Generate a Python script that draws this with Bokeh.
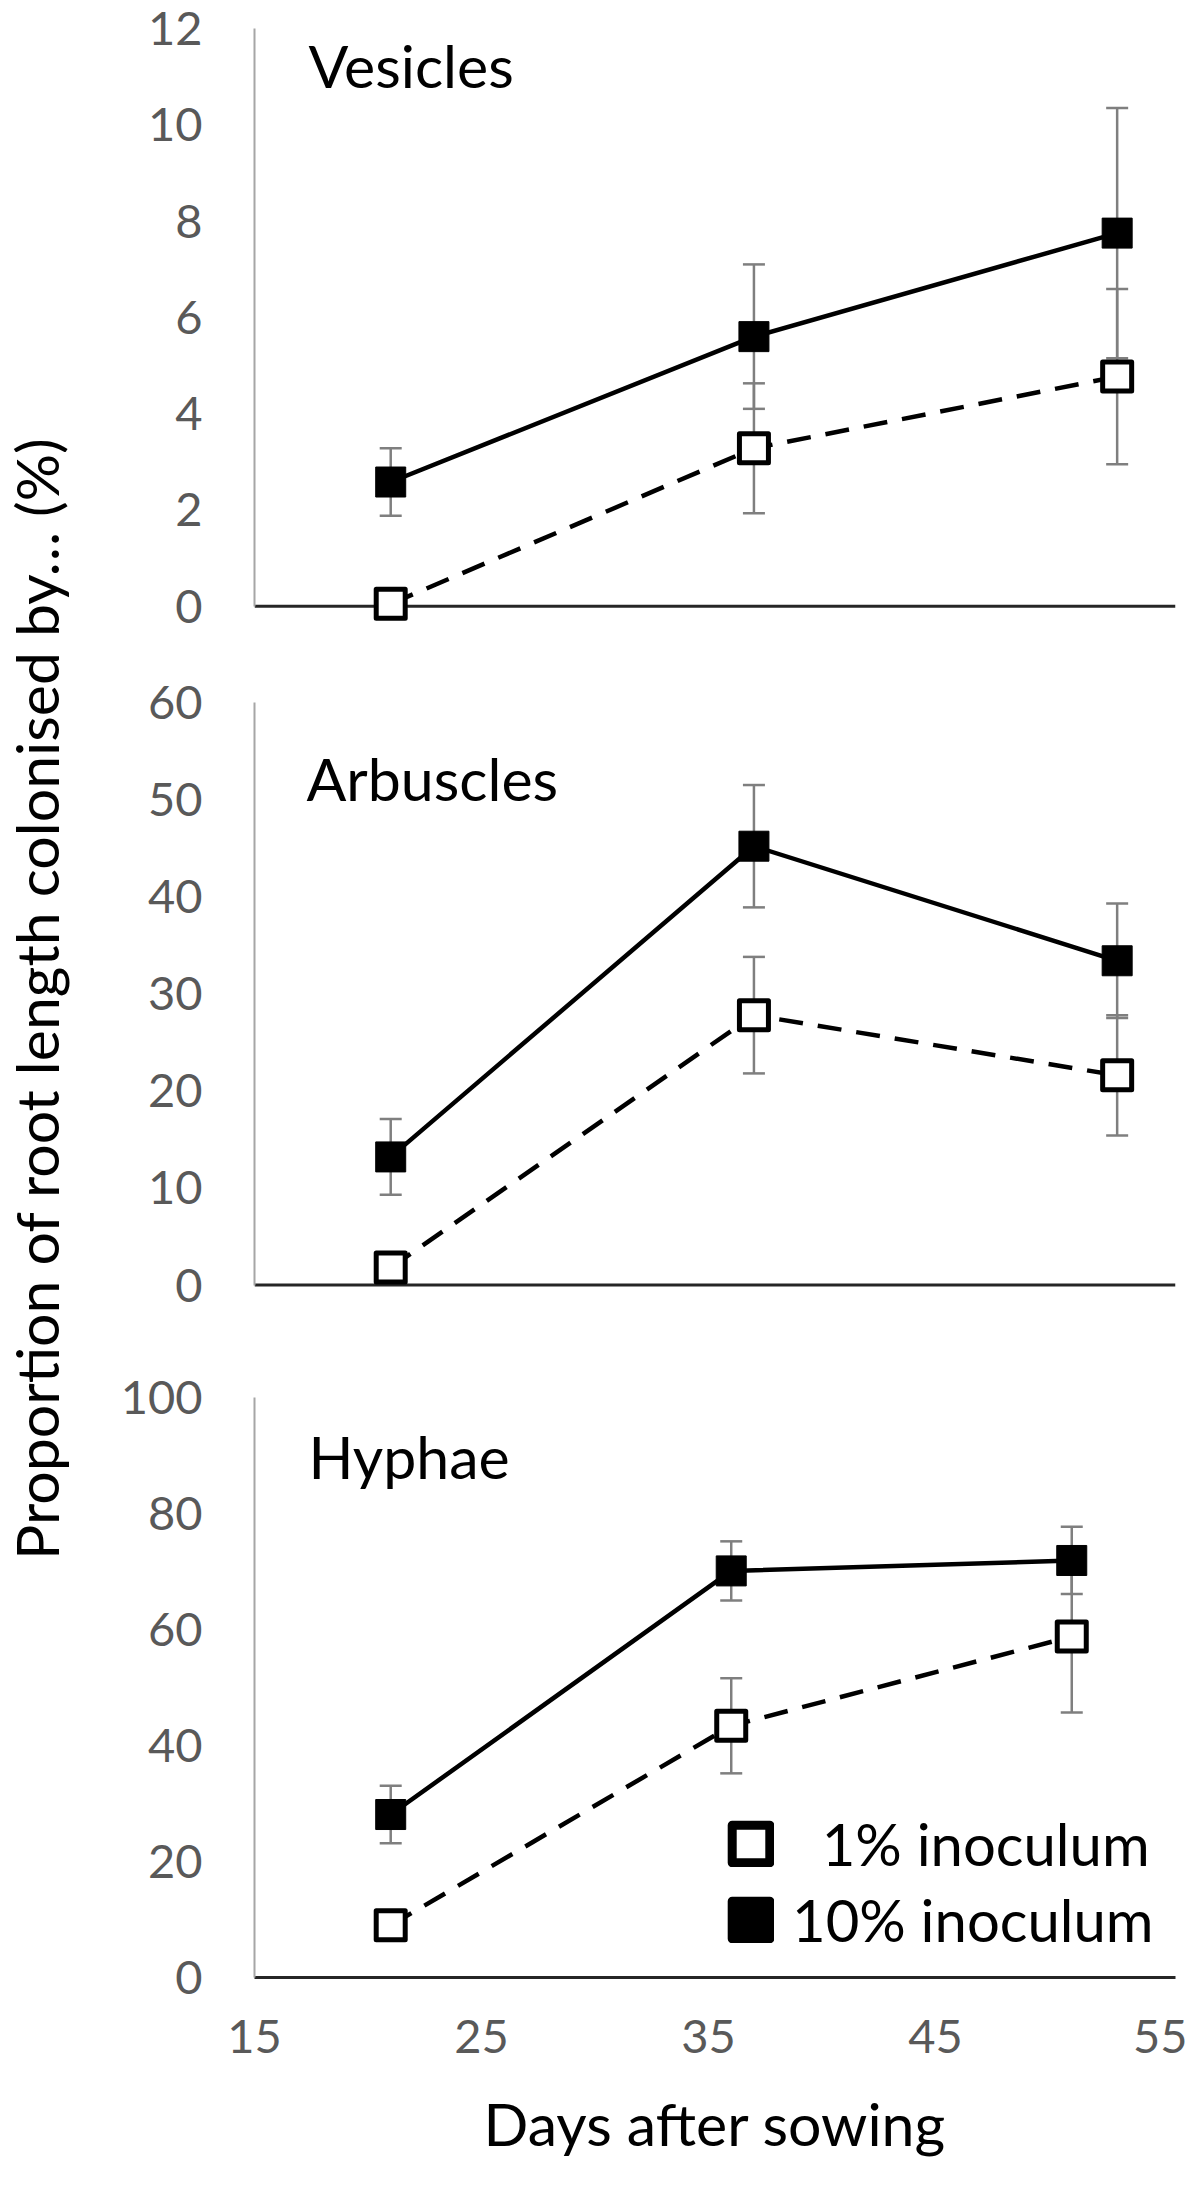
import math
from bokeh.plotting import figure
from bokeh.models import (Range1d, Span, Whisker, TeeHead, ColumnDataSource,
                          Legend, LegendItem, Label, FixedTicker)
from bokeh.layouts import row, column
from bokeh.embed import file_html
from bokeh.resources import INLINE

# ---------------- data ----------------
days_ves = [21, 37, 53]
days_arb = [21, 37, 53]
days_hyp = [21, 36, 51]

ves_10 = [2.58, 5.6, 7.75]
ves_10_err = [0.7, 1.5, 2.6]
ves_1 = [0.05, 3.28, 4.77]
ves_1_err = [0.0, 1.35, 1.82]

arb_10 = [13.2, 45.2, 33.4]
arb_10_err = [3.9, 6.3, 5.9]
arb_1 = [1.8, 27.8, 21.6]
arb_1_err = [0.0, 6.0, 6.2]

hyp_10 = [28.1, 70.1, 71.9]
hyp_10_err = [4.95, 5.1, 5.8]
hyp_1 = [9.0, 43.4, 58.8]
hyp_1_err = [0.0, 8.2, 13.1]

x_ticks = [15, 25, 35, 45, 55]
ves_ticks = [0, 2, 4, 6, 8, 10, 12]
arb_ticks = [0, 10, 20, 30, 40, 50, 60]
hyp_ticks = [0, 20, 40, 60, 80, 100]

panel_names = ["Vesicles", "Arbuscles", "Hyphae"]
legend_labels = ["\u00a0\u00a01% inoculum", "10% inoculum"]
y_title = "Proportion of root length colonised by\u2026 (%)"
x_title = "Days after sowing"

# ---------------- styling ----------------
FONT = "Lato"
TICK_COLOR = "#595959"
AXIS_GRAY = "#A6A6A6"
ERR_GRAY = "#7F7F7F"
ZERO_LINE = "#262626"
X_RANGE = (15, 55.57)
FRAME_W = 921
TITLE_W = 72
LEFT = 262 - 8 - TITLE_W
RIGHT = 12


def make_panel(name, days, v10, e10, v1, e1, ticks, y_lo, frame_h, top, bottom,
               title_pos, bottom_axis):
    p = figure(frame_width=FRAME_W, frame_height=frame_h,
               x_range=Range1d(*X_RANGE), y_range=Range1d(y_lo, ticks[-1]),
               output_backend="svg", toolbar_location=None, title=None,
               x_axis_location="below" if bottom_axis else None,
               min_border_left=LEFT, min_border_right=RIGHT,
               min_border_top=top, min_border_bottom=bottom)
    p.outline_line_color = None
    p.xgrid.visible = False
    p.ygrid.visible = False
    p.background_fill_color = "white"
    p.border_fill_color = "white"

    ya = p.yaxis[0]
    ya.ticker = FixedTicker(ticks=ticks)
    ya.bounds = (0, ticks[-1])
    ya.axis_line_color = AXIS_GRAY
    ya.axis_line_width = 2
    ya.major_tick_line_color = None
    ya.minor_tick_line_color = None
    ya.major_tick_out = 0
    ya.major_tick_in = 0
    ya.major_label_standoff = 52
    ya.major_label_text_font = FONT
    ya.major_label_text_font_size = "47px"
    ya.major_label_text_color = TICK_COLOR

    if bottom_axis:
        xa = p.xaxis[0]
        xa.ticker = FixedTicker(ticks=x_ticks)
        xa.axis_line_color = ZERO_LINE
        xa.axis_line_width = 3
        xa.major_tick_line_color = None
        xa.minor_tick_line_color = None
        xa.major_tick_out = 0
        xa.major_tick_in = 0
        xa.major_label_standoff = 42
        xa.major_label_text_font = FONT
        xa.major_label_text_font_size = "47px"
        xa.major_label_text_color = TICK_COLOR
        xa.axis_label = x_title
        xa.axis_label_text_font = FONT
        xa.axis_label_text_font_size = "59px"
        xa.axis_label_text_font_style = "normal"
        xa.axis_label_text_color = "black"
        xa.axis_label_standoff = 32
    else:
        p.add_layout(Span(location=0, dimension="width", line_color=ZERO_LINE,
                          line_width=3, level="underlay"))

    # error bars
    for vals, errs in ((v10, e10), (v1, e1)):
        xs = [d for d, e in zip(days, errs) if e > 0]
        up = [v + e for v, e in zip(vals, errs) if e > 0]
        lo = [v - e for v, e in zip(vals, errs) if e > 0]
        src = ColumnDataSource(dict(x=xs, upper=up, lower=lo))
        p.add_layout(Whisker(source=src, base="x", upper="upper", lower="lower",
                             line_color=ERR_GRAY, line_width=2.5, level="underlay",
                             upper_head=TeeHead(size=22, line_color=ERR_GRAY, line_width=2.5),
                             lower_head=TeeHead(size=22, line_color=ERR_GRAY, line_width=2.5)))

    # lines
    p.line(days, v1, line_color="black", line_width=4.5, line_dash="24 15")
    p.line(days, v10, line_color="black", line_width=4.5)
    # markers
    p.scatter(days, v1, marker="square", size=29, fill_color="white",
              line_color="black", line_width=5, line_join="round")
    p.scatter(days, v10, marker="square", size=30, fill_color="black",
              line_color="black", line_width=1, line_join="round")

    p.add_layout(Label(x=title_pos[0], y=title_pos[1], text=name, x_units="data",
                       y_units="data", text_font=FONT, text_font_size="59px",
                       text_color="black", text_align="left",
                       text_baseline="alphabetic"))
    return p


def px_to_x(px):
    return X_RANGE[0] + (px - 262) * (X_RANGE[1] - X_RANGE[0]) / FRAME_W


p1 = make_panel(panel_names[0], days_ves, ves_10, ves_10_err, ves_1, ves_1_err,
                ves_ticks, -0.4, 597, 28, 26, (px_to_x(316), 11.23), False)
p2 = make_panel(panel_names[1], days_arb, arb_10, arb_10_err, arb_1, arb_1_err,
                arb_ticks, -2, 602, 51, 48, (px_to_x(314), 52.2), False)
p3 = make_panel(panel_names[2], days_hyp, hyp_10, hyp_10_err, hyp_1, hyp_1_err,
                hyp_ticks, 0, 580, 45, 10, (px_to_x(316), 89.8), True)

# legend: swatch renderers are hidden, only the legend draws their style
leg_open = p3.rect(x=days_hyp, y=hyp_1, width=0.1, height=0.1, visible=False,
                   fill_color="white", line_color="black", line_width=9, line_join="round")
leg_fill = p3.rect(x=days_hyp, y=hyp_10, width=0.1, height=0.1, visible=False,
                   fill_color="black", line_color="black", line_width=9, line_join="round")
legend = Legend(items=[LegendItem(label=legend_labels[0], renderers=[leg_open]),
                       LegendItem(label=legend_labels[1], renderers=[leg_fill])],
                location=(473, 23), glyph_width=47, glyph_height=47,
                label_standoff=18, spacing=7, padding=0, margin=0,
                border_line_color=None, background_fill_alpha=0,
                label_text_font=FONT, label_text_font_size="58px",
                label_text_color="black")
p3.add_layout(legend)

# y-axis title (shared by the three panels)
TITLE_H = 2176
pt = figure(width=TITLE_W, height=TITLE_H, x_range=Range1d(0, TITLE_W),
            y_range=Range1d(0, TITLE_H), x_axis_type=None, y_axis_type=None,
            min_border=0, outline_line_color=None, toolbar_location=None,
            output_backend="svg", title=None)
pt.xgrid.visible = False
pt.ygrid.visible = False
pt.add_layout(Label(x=36, y=TITLE_H - (1006 - 8), text=y_title, angle=math.pi / 2,
                    text_font=FONT, text_font_size="59px", text_color="black",
                    text_align="center", text_baseline="middle"))

layout = row(pt, column(p1, p2, p3))
open("out.html", "w").write(file_html(layout, INLINE))
